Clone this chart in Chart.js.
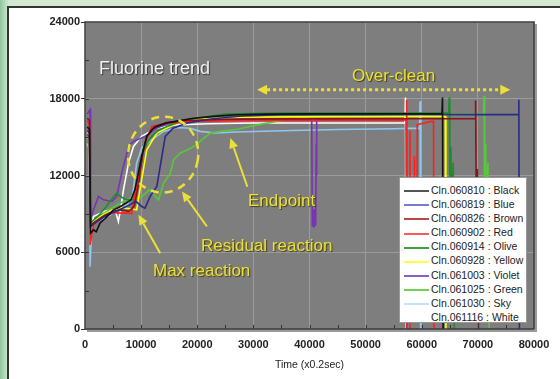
<!DOCTYPE html>
<html lang="en">
<head>
<meta charset="UTF-8">
<title>Fluorine trend</title>
<script src="https://cdn.jsdelivr.net/npm/chart.js"></script>
<style>
    html, body { margin: 0; padding: 0; }
    body {
        width: 560px; height: 379px; overflow: hidden; position: relative;
        background: linear-gradient(90deg, #8fc69b 0px, #b6dbbc 5px, #d3e8d2 9px);
        font-family: 'Liberation Sans', Arial, sans-serif;
    }
    #panel {
        position: absolute; left: 7px; top: 6px; width: 600px; height: 400px;
        background: #fff; border-top: 2px solid #333; border-left: 2px solid #333;
    }
    #wrap { position: absolute; left: 0; top: 0; width: 560px; height: 379px; }
    .note {
        position: absolute; font-size: 17px; line-height: 17px; white-space: nowrap;
        color: #ebe03a; text-shadow: 1px 1px 1px rgba(60, 55, 0, 0.9);
    }
    #title-note { font-size: 18px; line-height: 18px; color: #f2f2f2; text-shadow: 1px 1px 1px rgba(40, 40, 40, 0.8); }
    #legend {
        position: absolute; left: 399px; top: 177px; width: 126px; height: 139px;
        padding-top: 5px; background: #fff; border: 1px solid #999;
        font-size: 10.5px; color: #222;
    }
    #legend div { height: 14.1px; line-height: 14.1px; white-space: nowrap; }
    #legend span.ln { display: inline-block; width: 25px; height: 2px; margin: 0 2px 0 4px; vertical-align: middle; }
</style>
</head>
<body>
<div id="panel"></div>
<div id="wrap"><canvas id="chart"></canvas></div>
<div class="note" id="title-note" style="left:99px; top:59px;">Fluorine trend</div>
<div class="note" style="left:352px; top:67px;">Over-clean</div>
<div class="note" style="left:248px; top:192px;">Endpoint</div>
<div class="note" style="left:201px; top:237px;">Residual reaction</div>
<div class="note" style="left:153px; top:262px;">Max reaction</div>
<div id="legend"></div>

<script>
    // Datos: [tiempo (x0.2 s), senal]
    const black = [[400,15800],[800,15600],[1000,7500],[1500,7750],[2000,7600],[2700,8300],[3500,8600],[4200,8900],[5000,9300],[6000,9500],[7400,9860],[8200,10100],[8900,10900],[9500,12200],[10100,13500],[11000,15060],[12000,15600],[12800,15840],[14500,16100],[16400,16250],[19000,16450],[22900,16620],[27000,16750],[32400,16800],[40000,16820],[50000,16830],[58000,16830],[63600,16830],[63700,18100],[63800,0]];
    const blue = [[400,15500],[800,15300],[1000,8000],[1500,8200],[2500,8500],[3500,8800],[5000,9100],[6500,9400],[8000,9700],[9000,10000],[10100,9580],[10700,9450],[11600,10360],[12800,11140],[13700,13500],[14300,15060],[15700,15700],[18200,16100],[22000,16400],[28000,16650],[35000,16750],[50000,16760],[60000,16770],[70000,16760],[77200,16760],[77300,17930],[77400,0]];
    const brown = [[400,16500],[800,16300],[1000,8100],[1500,8300],[2500,8600],[3500,8900],[5000,9200],[6500,9300],[7800,9200],[8800,9600],[9600,11500],[10300,13800],[11000,15000],[12300,15800],[14500,16150],[18000,16300],[25000,16400],[35000,16430],[50000,16440],[60000,16440],[69500,16440],[69600,17870],[69700,10500],[69900,12500],[70100,0]];
    const red = [[400,16300],[800,16000],[900,6580],[1500,8100],[2500,8500],[3500,8800],[5000,9100],[6550,9060],[7750,9060],[8300,9000],[9500,11930],[10700,14530],[11900,15840],[14600,16100],[20000,16250],[30000,16300],[45000,16330],[57200,16330],[57300,17900],[57400,0],[57800,0],[57900,15500],[58000,2000],[58600,2000],[58700,13500],[58800,1000],[59100,1000],[59200,15970],[60500,16100],[61600,16230],[62100,16230],[62200,0]];
    const olive = [[400,15200],[800,15000],[1000,8300],[1500,8500],[2500,8900],[3500,9400],[4500,10000],[5650,10620],[6500,10300],[7500,10100],[8640,10100],[9300,11500],[10100,13500],[11000,14500],[11900,15060],[13000,15500],[14600,15840],[17000,16200],[20000,16500],[25000,16800],[35000,16880],[50000,16890],[60000,16890],[64800,16890],[64900,18100],[65000,11000],[65200,14200],[65300,9000],[65600,13000],[65800,0]];
    const yellow = [[400,15400],[800,15200],[1000,8200],[1500,8400],[2500,8700],[3500,9000],[5000,9300],[6500,9500],[8000,9400],[9200,9320],[10100,11670],[11000,14000],[12800,15320],[16400,16100],[20000,16400],[28000,16550],[40000,16600],[55000,16620],[64200,16620],[64300,0]];
    const violet = [[400,16800],[900,17150],[1000,8600],[1500,9300],[2400,10360],[3300,10100],[4800,9970],[5650,10360],[6550,12190],[7750,14270],[8640,14660],[10700,15060],[12800,15710],[15200,16100],[20000,16300],[28000,16400],[40400,16420],[40500,8100],[40600,9400],[40700,8000],[40800,9300],[40900,8000],[41000,9400],[41100,8100],[41200,14500],[41250,12000],[41300,16400],[50000,16430],[57200,16430],[57300,0]];
    const green = [[400,15000],[800,14800],[1000,8000],[1500,8300],[2500,8700],[3500,9100],[5000,9500],[6500,9900],[7500,10100],[8640,10230],[10000,10300],[11500,10900],[12300,10500],[13100,10100],[14000,11400],[15200,12190],[15800,13230],[17000,13760],[18200,14000],[19900,14400],[20500,14670],[22300,15320],[24100,15450],[27000,15600],[30000,15900],[35000,16300],[40000,16600],[50000,16750],[60000,16780],[71000,16780],[71100,18240],[71200,9000],[71400,14500],[71500,10000],[71800,13000],[72000,0]];
    const sky = [[400,14500],[800,14000],[900,4870],[1200,8000],[2000,8300],[3000,8600],[4500,8900],[5500,9300],[6250,9580],[7500,9700],[8500,10500],[9200,12970],[10100,14150],[11900,14800],[14000,15450],[16500,15750],[18750,15700],[20500,15450],[23300,15320],[27000,15400],[35000,15500],[45000,15600],[55000,15650],[59600,15700],[59700,17800],[59800,0]];
    const white = [[400,15000],[800,14800],[900,6800],[1500,8800],[2500,9000],[3500,9200],[4500,9300],[5350,9320],[5950,8400],[6400,9500],[6850,10880],[7750,12970],[8640,14270],[10100,15060],[12800,15710],[16000,15950],[22000,16050],[30000,16100],[45000,16100],[57000,16100],[57100,18100],[57200,0]];

    const names = ['Cln.060810 : Black', 'Cln.060819 : Blue', 'Cln.060826 : Brown', 'Cln.060902 : Red',
        'Cln.060914 : Olive', 'Cln.060928 : Yellow', 'Cln.061003 : Violet', 'Cln.061025 : Green',
        'Cln.061030 : Sky', 'Cln.061116 : White'];
    const series = [black, blue, brown, red, olive, yellow, violet, green, sky, white];
    const lineColors = ['#111111', '#2b2b88', '#8c1414', '#ff2020', '#1f8c2c', '#ffff00', '#7834b4', '#58c83a', '#8ec8f0', '#ffffff'];
    const legendColors = ['#555555', '#7878d8', '#b84848', '#ff5a5a', '#3ca03c', '#ffff50', '#8c5cc8', '#70d050', '#c0e4f8', '#ffffff'];
    const xTicks = [0, 10000, 20000, 30000, 40000, 50000, 60000, 70000, 80000];
    const yTicks = [0, 6000, 12000, 18000, 24000];

    // Anotaciones en coordenadas de datos
    const pointers = [
        { from: [28930, 11120], to: [25900, 14930] },  // Endpoint
        { from: [21730, 8010], to: [17270, 10750] },   // Residual reaction
        { from: [13400, 5930], to: [9520, 8930] }      // Max reaction
    ];
    const overClean = { from: 30660, to: 75780, y: 18710 };
    const circle = { x: 13930, y: 13630 };

    // Leyenda
    const legend = document.getElementById('legend');
    names.forEach((n, i) => {
        const row = document.createElement('div');
        const ln = document.createElement('span');
        ln.className = 'ln';
        ln.style.background = legendColors[i];
        row.appendChild(ln);
        row.appendChild(document.createTextNode(n));
        legend.appendChild(row);
    });

    const yellowInk = '#ebe03a';

    function arrow(ctx, x1, y1, x2, y2) {
        const ang = Math.atan2(y2 - y1, x2 - x1);
        const len = 10, half = 4.5;
        const bx = x2 - len * Math.cos(ang), by = y2 - len * Math.sin(ang);
        ctx.beginPath(); ctx.moveTo(x1, y1); ctx.lineTo(bx, by); ctx.stroke();
        ctx.beginPath(); ctx.moveTo(x2, y2);
        ctx.lineTo(bx + half * Math.sin(ang), by - half * Math.cos(ang));
        ctx.lineTo(bx - half * Math.sin(ang), by + half * Math.cos(ang));
        ctx.closePath(); ctx.fill();
    }

    const decor = {
        id: 'decor',
        beforeDraw(chart) {
            const { ctx, chartArea: a } = chart;
            ctx.save();
            ctx.fillStyle = '#7e7e7e';
            ctx.fillRect(a.left, a.top, a.width, a.height);
            ctx.restore();
        },
        afterDatasetsDraw(chart) {
            const { ctx, chartArea: a, scales } = chart;
            const px = v => scales.x.getPixelForValue(v);
            const py = v => scales.y.getPixelForValue(v);
            ctx.save();
            ctx.strokeStyle = yellowInk;
            ctx.fillStyle = yellowInk;

            // elipse punteada
            ctx.lineWidth = 2.5;
            ctx.setLineDash([8, 6]);
            ctx.beginPath();
            ctx.ellipse(px(circle.x), py(circle.y), 35, 38, 0.15, 0, Math.PI * 2);
            ctx.stroke();

            // flechas
            ctx.setLineDash([]);
            ctx.lineWidth = 2;
            pointers.forEach(p => arrow(ctx, px(p.from[0]), py(p.from[1]), px(p.to[0]), py(p.to[1])));

            // flecha doble de over-clean
            const l = px(overClean.from), r = px(overClean.to), y = py(overClean.y);
            ctx.lineWidth = 3;
            ctx.setLineDash([3, 3]);
            ctx.beginPath(); ctx.moveTo(l + 10, y); ctx.lineTo(r - 10, y); ctx.stroke();
            ctx.setLineDash([]);
            ctx.beginPath(); ctx.moveTo(l, y); ctx.lineTo(l + 10, y - 5); ctx.lineTo(l + 10, y + 5); ctx.closePath(); ctx.fill();
            ctx.beginPath(); ctx.moveTo(r, y); ctx.lineTo(r - 10, y - 5); ctx.lineTo(r - 10, y + 5); ctx.closePath(); ctx.fill();
            ctx.restore();
        },
        afterDraw(chart) {
            const { ctx, chartArea: a, scales } = chart;
            ctx.save();
            // marcas menores hacia dentro
            ctx.strokeStyle = '#333';
            ctx.lineWidth = 1;
            for (let v = 5000; v < 80000; v += 5000) {
                const x = Math.round(scales.x.getPixelForValue(v)) + 0.5;
                ctx.beginPath(); ctx.moveTo(x, a.bottom); ctx.lineTo(x, a.bottom - 4); ctx.stroke();
            }
            for (let v = 3000; v < 24000; v += 3000) {
                const y = Math.round(scales.y.getPixelForValue(v)) + 0.5;
                ctx.beginPath(); ctx.moveTo(a.left, y); ctx.lineTo(a.left + 4, y); ctx.stroke();
            }
            // marco
            ctx.strokeStyle = '#9a9a9a';
            ctx.lineWidth = 2;
            ctx.beginPath(); ctx.moveTo(a.right + 2, a.top + 2); ctx.lineTo(a.right + 2, a.bottom + 2); ctx.lineTo(a.left + 2, a.bottom + 2); ctx.stroke();
            ctx.strokeStyle = '#3c3c3c';
            ctx.lineWidth = 1.5;
            ctx.strokeRect(a.left, a.top, a.width, a.height);
            ctx.restore();
        }
    };

    const tickFont = { family: "'Liberation Sans', Arial, sans-serif", size: 11, weight: 'bold' };

    new Chart(document.getElementById('chart'), {
        type: 'line',
        data: {
            datasets: series.map((s, i) => ({
                label: names[i],
                data: s.map(p => ({ x: p[0], y: p[1] })),
                borderColor: lineColors[i],
                borderWidth: 1.6,
                pointRadius: 0,
                tension: 0
            }))
        },
        options: {
            animation: false,
            responsive: true,
            maintainAspectRatio: false,
            layout: { padding: { left: 0, top: 22, right: 26, bottom: 0 } },
            plugins: { legend: { display: false }, tooltip: { enabled: false } },
            scales: {
                x: {
                    type: 'linear',
                    min: xTicks[0],
                    max: xTicks[xTicks.length - 1],
                    afterBuildTicks: s => { s.ticks = xTicks.map(v => ({ value: v })); },
                    afterFit: s => { s.height = 50; },
                    ticks: { callback: v => String(v), font: tickFont, color: '#222', padding: 9, maxRotation: 0 },
                    grid: { color: '#9b9b9b', drawTicks: false },
                    border: { display: false },
                    title: {
                        display: true, text: 'Time (x0.2sec)', color: '#222',
                        font: { family: "'Liberation Sans', Arial, sans-serif", size: 10.5 },
                        padding: { top: 0, bottom: 8 }
                    }
                },
                y: {
                    min: yTicks[0],
                    max: yTicks[yTicks.length - 1],
                    afterBuildTicks: s => { s.ticks = yTicks.map(v => ({ value: v })); },
                    afterFit: s => { s.width = 85; },
                    ticks: { callback: v => String(v), font: tickFont, color: '#222', padding: 1 },
                    grid: { color: '#9b9b9b', tickColor: '#333', tickLength: 4 },
                    border: { display: false }
                }
            }
        },
        plugins: [decor]
    });
</script>
</body>
</html>
